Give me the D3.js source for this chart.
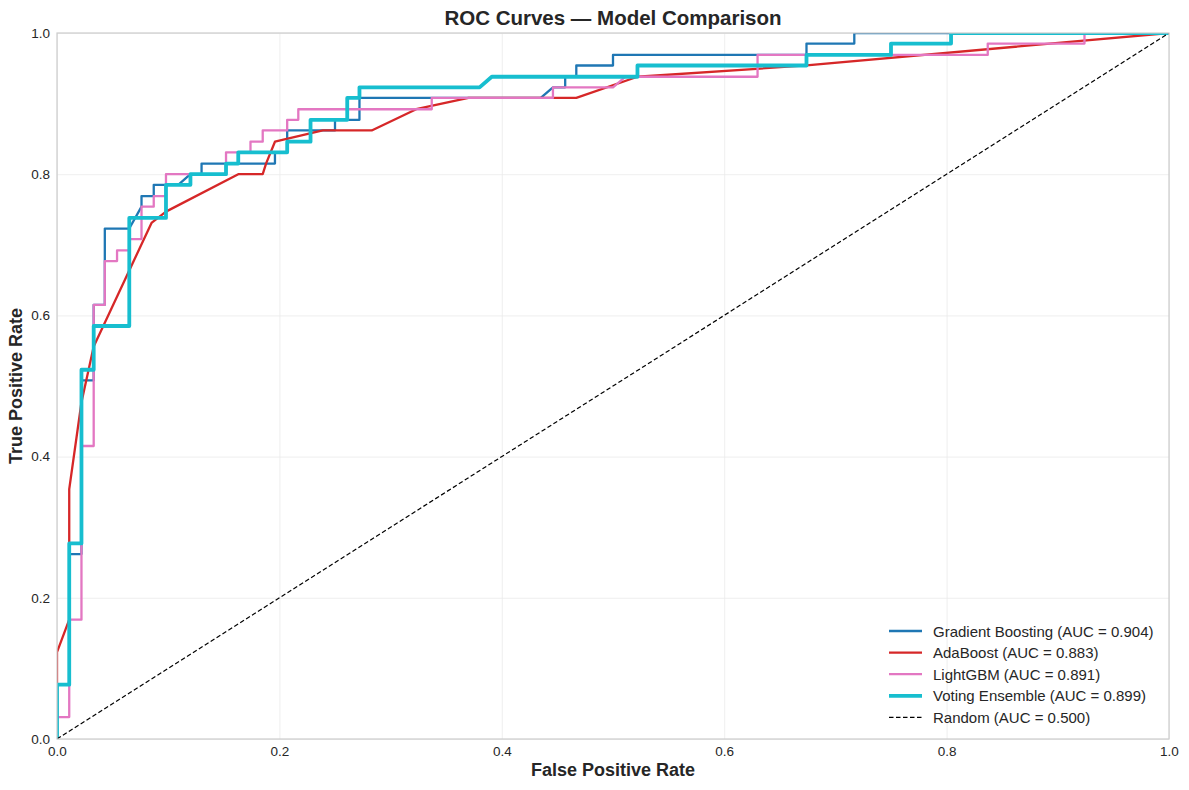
<!DOCTYPE html>
<html>
<head>
<meta charset="utf-8">
<script src="https://cdn.jsdelivr.net/npm/d3@7"></script>
<style>
  body { margin: 0; background: #fff; }
  text { font-family: "Liberation Sans", Arial, sans-serif; }
</style>
</head>
<body>
<svg id="canvas" width="1189" height="790"></svg>
<script>
const modelNames = ["Gradient Boosting", "AdaBoost", "LightGBM", "Voting Ensemble"];
const aucValues = [0.904, 0.883, 0.891, 0.899];
const modelColors = ["#1f77b4", "#d62728", "#e377c2", "#17becf"];

// ROC points
const gbFpr = [0, 0, 0.011, 0.011, 0.022, 0.022, 0.033, 0.033, 0.043, 0.043, 0.065, 0.076, 0.076, 0.087, 0.087, 0.109, 0.120, 0.130, 0.130, 0.196, 0.196, 0.207, 0.207, 0.250, 0.250, 0.272, 0.272, 0.435, 0.446, 0.457, 0.457, 0.467, 0.467, 0.500, 0.500, 0.674, 0.674, 0.717, 0.717, 1];
const gbTpr = [0, 0.077, 0.077, 0.262, 0.262, 0.508, 0.508, 0.615, 0.615, 0.723, 0.723, 0.754, 0.769, 0.769, 0.785, 0.785, 0.800, 0.800, 0.815, 0.815, 0.831, 0.831, 0.862, 0.862, 0.877, 0.877, 0.908, 0.908, 0.923, 0.923, 0.938, 0.938, 0.954, 0.954, 0.969, 0.969, 0.985, 0.985, 1, 1];

const adaFpr = [0, 0, 0.011, 0.011, 0.022, 0.033, 0.085, 0.098, 0.163, 0.185, 0.188, 0.196, 0.239, 0.283, 0.323, 0.370, 0.467, 0.522, 0.674, 1];
const adaTpr = [0, 0.123, 0.169, 0.354, 0.477, 0.556, 0.731, 0.747, 0.800, 0.800, 0.815, 0.846, 0.862, 0.862, 0.892, 0.908, 0.908, 0.938, 0.954, 1];

const lgbFpr = [0, 0, 0.011, 0.011, 0.022, 0.022, 0.033, 0.033, 0.043, 0.043, 0.054, 0.054, 0.065, 0.065, 0.076, 0.076, 0.087, 0.087, 0.098, 0.098, 0.152, 0.152, 0.174, 0.174, 0.185, 0.185, 0.207, 0.207, 0.217, 0.217, 0.337, 0.337, 0.446, 0.446, 0.500, 0.511, 0.630, 0.630, 0.837, 0.837, 0.924, 0.924, 1];
const lgbTpr = [0, 0.031, 0.031, 0.169, 0.169, 0.415, 0.415, 0.615, 0.615, 0.677, 0.677, 0.692, 0.692, 0.708, 0.708, 0.754, 0.754, 0.769, 0.769, 0.800, 0.800, 0.831, 0.831, 0.846, 0.846, 0.862, 0.862, 0.877, 0.877, 0.892, 0.892, 0.908, 0.908, 0.923, 0.923, 0.938, 0.938, 0.969, 0.969, 0.985, 0.985, 1, 1];

const voteFpr = [0, 0, 0.011, 0.011, 0.022, 0.022, 0.033, 0.033, 0.065, 0.065, 0.098, 0.098, 0.120, 0.120, 0.152, 0.152, 0.163, 0.163, 0.207, 0.207, 0.228, 0.228, 0.261, 0.261, 0.272, 0.272, 0.380, 0.391, 0.522, 0.522, 0.674, 0.674, 0.750, 0.750, 0.804, 0.804, 1];
const voteTpr = [0, 0.077, 0.077, 0.277, 0.277, 0.523, 0.523, 0.585, 0.585, 0.738, 0.738, 0.785, 0.785, 0.800, 0.800, 0.815, 0.815, 0.831, 0.831, 0.846, 0.846, 0.877, 0.877, 0.908, 0.908, 0.923, 0.923, 0.938, 0.938, 0.954, 0.954, 0.969, 0.969, 0.985, 0.985, 1, 1];

const randomFpr = [0, 1];
const randomTpr = [0, 1];

const tickValues = [0, 0.2, 0.4, 0.6, 0.8, 1.0];

const curves = [
  { fpr: gbFpr, tpr: gbTpr, width: 2.3 },
  { fpr: adaFpr, tpr: adaTpr, width: 2.3 },
  { fpr: lgbFpr, tpr: lgbTpr, width: 2.3 },
  { fpr: voteFpr, tpr: voteTpr, width: 3.8 }
].map((c, i) => ({ ...c, name: modelNames[i], auc: aucValues[i], color: modelColors[i] }));

const margin = { top: 33, right: 20, bottom: 51, left: 57 };
const width = 1189 - margin.left - margin.right;
const height = 790 - margin.top - margin.bottom;

const svg = d3.select("#canvas");
const g = svg.append("g").attr("transform", `translate(${margin.left},${margin.top})`);

const x = d3.scaleLinear().domain([0, 1]).range([0, width]);
const y = d3.scaleLinear().domain([0, 1]).range([height, 0]);

svg.append("defs").append("clipPath").attr("id", "plotClip")
  .append("rect").attr("width", width).attr("height", height);

// grid
g.append("g")
  .attr("transform", `translate(0,${height})`)
  .call(d3.axisBottom(x).tickValues(tickValues).tickSize(-height).tickFormat(""))
  .call(s => s.select(".domain").remove())
  .call(s => s.selectAll("line").attr("stroke", "#ebebeb").attr("stroke-width", 0.8));

g.append("g")
  .call(d3.axisLeft(y).tickValues(tickValues).tickSize(-width).tickFormat(""))
  .call(s => s.select(".domain").remove())
  .call(s => s.selectAll("line").attr("stroke", "#ebebeb").attr("stroke-width", 0.8));

// tick labels
g.append("g")
  .attr("transform", `translate(0,${height})`)
  .call(d3.axisBottom(x).tickValues(tickValues).tickSize(0).tickPadding(7).tickFormat(d3.format(".1f")))
  .call(s => s.select(".domain").remove())
  .call(s => s.selectAll("text").attr("font-size", "13.5px").attr("fill", "#262626")
    .attr("font-family", "'Liberation Sans', Arial, sans-serif"));

g.append("g")
  .call(d3.axisLeft(y).tickValues(tickValues).tickSize(0).tickPadding(7).tickFormat(d3.format(".1f")))
  .call(s => s.select(".domain").remove())
  .call(s => s.selectAll("text").attr("font-size", "13.5px").attr("fill", "#262626")
    .attr("font-family", "'Liberation Sans', Arial, sans-serif"));

const plot = g.append("g").attr("clip-path", "url(#plotClip)");

const line = d3.line()
  .x(d => x(d[0]))
  .y(d => y(d[1]));

curves.forEach(c => {
  plot.append("path")
    .datum(c.fpr.map((f, i) => [f, c.tpr[i]]))
    .attr("fill", "none")
    .attr("stroke", c.color)
    .attr("stroke-width", c.width)
    .attr("stroke-linejoin", "round")
    .attr("d", line);
});

plot.append("path")
  .datum(randomFpr.map((f, i) => [f, randomTpr[i]]))
  .attr("fill", "none")
  .attr("stroke", "#000")
  .attr("stroke-width", 1.2)
  .attr("stroke-dasharray", "4.5,2.5")
  .attr("d", line);

// spines
g.append("rect")
  .attr("width", width).attr("height", height)
  .attr("fill", "none").attr("stroke", "#cccccc").attr("stroke-width", 1.2);

// titles
svg.append("text")
  .attr("x", margin.left + width / 2).attr("y", 25)
  .attr("text-anchor", "middle")
  .attr("font-size", "20.5px").attr("font-weight", "bold").attr("fill", "#262626")
  .text("ROC Curves — Model Comparison");

svg.append("text")
  .attr("x", margin.left + width / 2).attr("y", 776)
  .attr("text-anchor", "middle")
  .attr("font-size", "18px").attr("font-weight", "bold").attr("fill", "#262626")
  .text("False Positive Rate");

svg.append("text")
  .attr("transform", `translate(22,${margin.top + height / 2}) rotate(-90)`)
  .attr("text-anchor", "middle")
  .attr("font-size", "18px").attr("font-weight", "bold").attr("fill", "#262626")
  .text("True Positive Rate");

// legend
const legendItems = curves.map(c => ({
  label: `${c.name} (AUC = ${c.auc.toFixed(3)})`, color: c.color, width: c.width, dash: null
})).concat([{ label: "Random (AUC = 0.500)", color: "#000", width: 1.2, dash: "4.5,2.5" }]);

const legend = svg.append("g").attr("transform", "translate(889,631)");

legend.selectAll("g")
  .data(legendItems)
  .enter()
  .append("g")
  .attr("transform", (d, i) => `translate(0,${i * 21.6})`)
  .each(function(d) {
    const row = d3.select(this);
    row.append("line")
      .attr("x1", 0).attr("x2", 33)
      .attr("stroke", d.color)
      .attr("stroke-width", d.width)
      .attr("stroke-dasharray", d.dash);
    row.append("text")
      .attr("x", 44).attr("y", 5.5)
      .attr("font-size", "15px").attr("fill", "#262626")
      .text(d.label);
  });
</script>
</body>
</html>
